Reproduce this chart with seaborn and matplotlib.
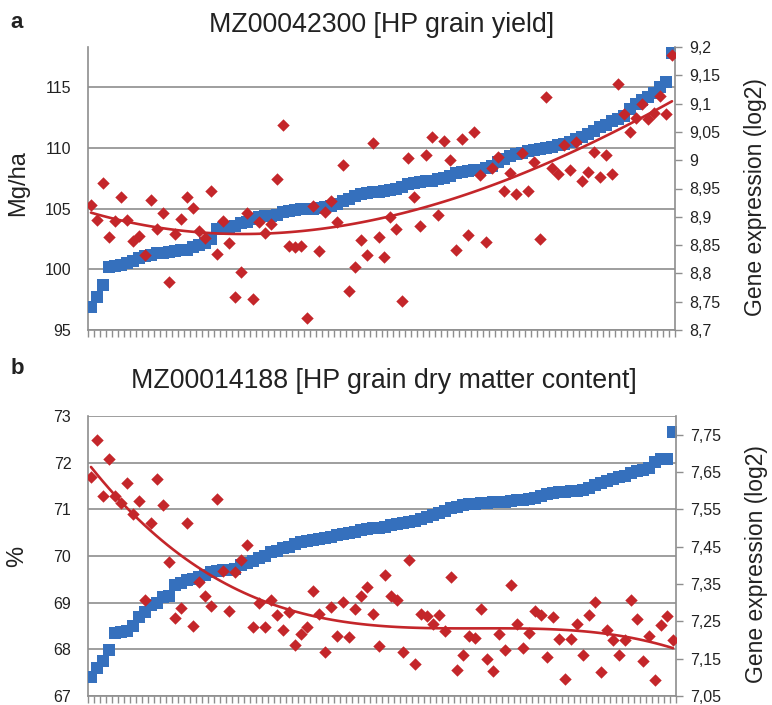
import numpy as np
import pandas as pd
import matplotlib
matplotlib.use("Agg")
import matplotlib.pyplot as plt
import seaborn as sns

sns.set_theme(style="white")
plt.rcParams["font.family"] = ["Liberation Sans", "DejaVu Sans"]

# --- panel a: MZ00042300 / HP grain yield ---
yield_mgha = [
    96.9, 97.7, 98.7, 100.2, 100.3, 100.35, 100.5, 100.7, 100.9, 101.1,
    101.2, 101.3, 101.35, 101.45, 101.5, 101.55, 101.6, 101.8, 102.0, 102.2,
    102.5, 103.3, 103.4, 103.5, 103.6, 103.8, 103.9, 104.1, 104.3, 104.35,
    104.4, 104.5, 104.7, 104.8, 104.9, 104.95, 105.0, 105.0, 105.05, 105.1,
    105.2, 105.4, 105.6, 105.8, 106.0, 106.2, 106.3, 106.35, 106.4, 106.45,
    106.5, 106.6, 106.8, 107.0, 107.1, 107.2, 107.25, 107.3, 107.4, 107.5,
    107.7, 107.9, 108.0, 108.1, 108.15, 108.2, 108.3, 108.5, 108.8, 109.1,
    109.3, 109.45, 109.55, 109.7, 109.8, 109.9, 110.0, 110.1, 110.2, 110.35,
    110.5, 110.7, 110.9, 111.1, 111.4, 111.7, 111.9, 112.2, 112.4, 112.6,
    113.2, 113.6, 113.9, 114.2, 114.5, 115.0, 115.4, 117.8,
]
expr_a = [
    8.921, 8.894, 8.959, 8.864, 8.893, 8.935, 8.894, 8.858, 8.866, 8.832,
    8.929, 8.878, 8.906, 8.784, 8.869, 8.896, 8.935, 8.915, 8.875, 8.862,
    8.945, 8.835, 8.893, 8.853, 8.758, 8.802, 8.906, 8.755, 8.890, 8.871,
    8.888, 8.966, 9.062, 8.849, 8.846, 8.849, 8.721, 8.919, 8.839, 8.909,
    8.928, 8.890, 8.992, 8.769, 8.811, 8.859, 8.832, 9.031, 8.864, 8.829,
    8.900, 8.878, 8.752, 9.004, 8.935, 8.884, 9.009, 9.041, 8.904, 9.034,
    9.000, 8.841, 9.037, 8.868, 9.049, 8.974, 8.855, 8.986, 9.006, 8.945,
    8.978, 8.940, 9.012, 8.945, 8.996, 8.861, 9.112, 8.986, 8.976, 9.027,
    8.982, 9.033, 8.964, 8.980, 9.015, 8.971, 9.009, 8.976, 9.134, 9.082,
    9.049, 9.074, 9.100, 9.072, 9.084, 9.114, 9.081, 9.185,
]
left_ticks_a = [95, 100, 105, 110, 115]
right_ticks_a = [8.7, 8.75, 8.8, 8.85, 8.9, 8.95, 9.0, 9.05, 9.1, 9.15, 9.2]
right_labels_a = ["8,7", "8,75", "8,8", "8,85", "8,9", "8,95", "9", "9,05", "9,1", "9,15", "9,2"]

# --- panel b: MZ00014188 / HP grain dry matter content ---
dm_pct = [
    67.41, 67.59, 67.76, 67.98, 68.35, 68.37, 68.4, 68.5, 68.7, 68.8,
    68.94, 69.0, 69.12, 69.15, 69.37, 69.42, 69.48, 69.5, 69.55, 69.6,
    69.65, 69.68, 69.69, 69.7, 69.72, 69.8, 69.84, 69.9, 69.95, 70.0,
    70.08, 70.1, 70.17, 70.2, 70.25, 70.3, 70.32, 70.35, 70.37, 70.38,
    70.4, 70.45, 70.48, 70.5, 70.52, 70.55, 70.58, 70.6, 70.61, 70.63,
    70.66, 70.69, 70.71, 70.73, 70.76, 70.8, 70.84, 70.88, 70.92, 70.97,
    71.02, 71.06, 71.09, 71.11, 71.12, 71.13, 71.14, 71.15, 71.15, 71.16,
    71.18, 71.2, 71.21, 71.22, 71.24, 71.28, 71.32, 71.35, 71.37, 71.38,
    71.39, 71.4, 71.42, 71.45, 71.52, 71.56, 71.6, 71.66, 71.69, 71.72,
    71.78, 71.83, 71.85, 71.88, 72.02, 72.07, 72.08, 72.66,
]
expr_b = [
    7.637, 7.735, 7.587, 7.685, 7.586, 7.568, 7.621, 7.537, 7.572, 7.308,
    7.514, 7.630, 7.562, 7.408, 7.258, 7.285, 7.513, 7.237, 7.356, 7.317,
    7.292, 7.578, 7.385, 7.279, 7.381, 7.415, 7.454, 7.234, 7.299, 7.234,
    7.308, 7.267, 7.228, 7.274, 7.187, 7.216, 7.234, 7.332, 7.270, 7.167,
    7.288, 7.212, 7.301, 7.207, 7.283, 7.317, 7.341, 7.270, 7.185, 7.374,
    7.317, 7.308, 7.167, 7.415, 7.136, 7.270, 7.265, 7.243, 7.267, 7.225,
    7.370, 7.119, 7.160, 7.212, 7.205, 7.283, 7.148, 7.116, 7.216, 7.172,
    7.347, 7.243, 7.178, 7.219, 7.279, 7.267, 7.154, 7.261, 7.203, 7.096,
    7.203, 7.243, 7.160, 7.267, 7.301, 7.114, 7.228, 7.199, 7.160, 7.201,
    7.308, 7.256, 7.145, 7.212, 7.094, 7.240, 7.264, 7.199,
]
left_ticks_b = [67, 68, 69, 70, 71, 72, 73]
right_ticks_b = [7.05, 7.15, 7.25, 7.35, 7.45, 7.55, 7.65, 7.75]
right_labels_b = ["7,05", "7,15", "7,25", "7,35", "7,45", "7,55", "7,65", "7,75"]

blue = "#3570bd"
red = "#c4262a"
grey = "#8e8e8e"
txt = "#222222"


def draw_panel(ax, pheno, expr, ylim_l, ylim_r, lticks, rticks, rlabels, ylabel, lab_y):
    n = len(pheno)
    df = pd.DataFrame({"line": np.arange(n), "pheno": pheno, "expr": expr})

    sns.scatterplot(data=df, x="line", y="pheno", marker="s", s=64, color=blue,
                    linewidth=0, ax=ax, zorder=3, legend=False)
    ax2 = ax.twinx()
    sns.scatterplot(data=df, x="line", y="expr", marker="D", s=40, color=red,
                    linewidth=0, ax=ax2, zorder=3, legend=False)
    sns.regplot(data=df, x="line", y="expr", order=3, ci=None, scatter=False,
                line_kws=dict(color=red, lw=1.9), ax=ax2)

    ax.set_xlim(-0.5, n - 0.5)
    ax.set_ylim(*ylim_l)
    ax2.set_ylim(*ylim_r)

    ax.set_xticks(np.arange(n + 1) - 0.5)
    ax.set_xticklabels([])
    ax.tick_params(axis="x", bottom=True, length=5, width=1, color=grey, direction="out")
    ax.set_yticks(lticks)
    ax.set_yticklabels([str(t) for t in lticks])
    ax.tick_params(axis="y", left=False, length=0, pad=12, labelsize=11.5, labelcolor=txt)
    ax2.set_yticks(rticks)
    ax2.set_yticklabels(rlabels)
    ax2.tick_params(axis="y", right=True, length=5, width=1, color=grey, direction="out",
                    pad=5, labelsize=11.5, labelcolor=txt)

    ax.yaxis.grid(True, color=grey, lw=1.2)
    ax.set_axisbelow(True)

    for sp in ["top", "right"]:
        ax.spines[sp].set_visible(False)
    for sp in ["top", "left", "bottom"]:
        ax2.spines[sp].set_visible(False)
    for sp in ["left", "bottom"]:
        ax.spines[sp].set_color(grey)
        ax.spines[sp].set_linewidth(1.2)
    ax2.spines["right"].set_color(grey)
    ax2.spines["right"].set_linewidth(1.2)

    ax.set_xlabel("")
    ax.set_ylabel(ylabel, fontsize=17, color=txt)
    ax.yaxis.set_label_coords(-0.101, lab_y)
    ax2.set_ylabel("Gene expression (log2)", fontsize=16.5, color=txt)
    ax2.yaxis.set_label_coords(1.117, 0.47)
    return ax2


fig = plt.figure(figsize=(7.72, 7.05), dpi=100)
ax_a = fig.add_axes([88 / 772, 1 - 330 / 705, 587 / 772, 283 / 705])
ax_b = fig.add_axes([88 / 772, 1 - 696 / 705, 588 / 772, 280 / 705])

draw_panel(ax_a, yield_mgha, expr_a, (95, 118.3), (8.7, 9.2),
           left_ticks_a, right_ticks_a, right_labels_a, "Mg/ha", 0.52)
draw_panel(ax_b, dm_pct, expr_b, (67, 73), (7.05, 7.8),
           left_ticks_b, right_ticks_b, right_labels_b, "%", 0.50)

fig.text(382 / 772, 1 - 25 / 705, "MZ00042300 [HP grain yield]", ha="center", va="center",
         fontsize=19.3, color=txt)
fig.text(384 / 772, 1 - 381 / 705, "MZ00014188 [HP grain dry matter content]", ha="center",
         va="center", fontsize=19.3, color=txt)
fig.text(10 / 772, 1 - 23 / 705, "a", ha="left", va="center", fontsize=16, fontweight="bold",
         color=txt)
fig.text(11 / 772, 1 - 369 / 705, "b", ha="left", va="center", fontsize=16, fontweight="bold",
         color=txt)

fig.savefig("out.png", dpi=100)
